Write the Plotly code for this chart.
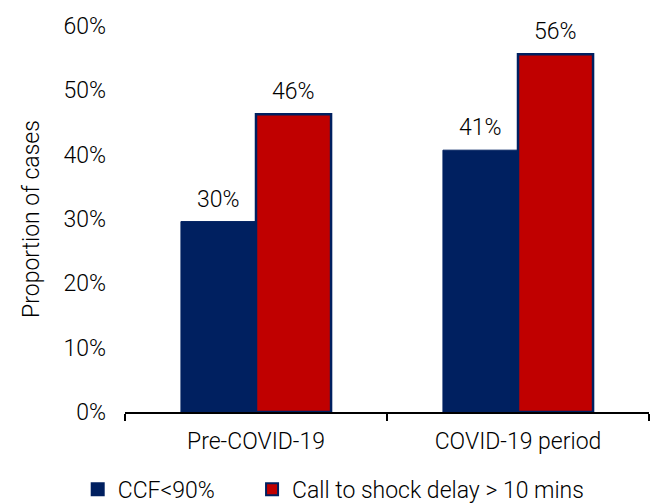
import plotly.graph_objects as go

categories = ["Pre-COVID-19", "COVID-19 period"]
series_names = ["CCF<90%", "Call to shock delay > 10 mins"]
ccf_values = [0.296, 0.407]
delay_values = [0.463, 0.556]
y_ticks = [0, 0.1, 0.2, 0.3, 0.4, 0.5, 0.6]

NAVY = "#002060"
RED = "#C00000"
FONT = "Roboto"
TXT = "#000000"
FS = 23

fig = go.Figure()
fig.add_trace(go.Bar(
    x=categories, y=ccf_values, name=series_names[0], legend="legend",
    marker=dict(color=NAVY, line=dict(color=NAVY, width=1)),
))
fig.add_trace(go.Bar(
    x=categories, y=delay_values, name=series_names[1], legend="legend2",
    marker=dict(color=RED, line=dict(color=NAVY, width=2.5)),
))

annotations = []
for vals, shift in ((ccf_values, -37.5), (delay_values, 37.5)):
    for c, v in zip(categories, vals):
        annotations.append(dict(
            x=c, y=v, xref="x", yref="y", text=f"{v:.0%}", showarrow=False,
            xshift=shift, yshift=7, yanchor="bottom",
            font=dict(family=FONT, size=FS, color=TXT, weight=300),
        ))

legend_common = dict(
    orientation="h", xref="container", yref="container",
    xanchor="left", yanchor="top",
    font=dict(family=FONT, size=FS, color=TXT, weight=300),
    itemsizing="constant", bgcolor="rgba(0,0,0,0)",
)

fig.update_layout(
    width=653, height=503,
    margin=dict(l=125, r=4, t=26, b=91),
    paper_bgcolor="white", plot_bgcolor="white",
    barmode="group", bargap=0.427, bargroupgap=0,
    font=dict(family=FONT, size=FS, color=TXT, weight=300),
    annotations=annotations,
    showlegend=True,
    legend=dict(x=0.119, y=0.07, **legend_common),
    legend2=dict(x=0.386, y=0.07, **legend_common),
)
fig.update_xaxes(
    showline=True, linecolor="black", linewidth=1.5,
    ticks="outside", tickson="boundaries", ticklen=7, tickwidth=1.5, tickcolor="black",
    ticklabelstandoff=8,
    tickfont=dict(family=FONT, size=FS, color=TXT, weight=300),
    showgrid=False,
)
fig.update_yaxes(
    range=[0, 0.6], tickvals=y_ticks, tickformat=".0%",
    showgrid=False, zeroline=False, showline=False,
    ticklabelstandoff=18,
    tickfont=dict(family=FONT, size=FS, color=TXT, weight=300),
    title=dict(text="Proportion of cases", standoff=17,
               font=dict(family=FONT, size=FS, color=TXT, weight=300)),
)

fig.write_html("out.html")
